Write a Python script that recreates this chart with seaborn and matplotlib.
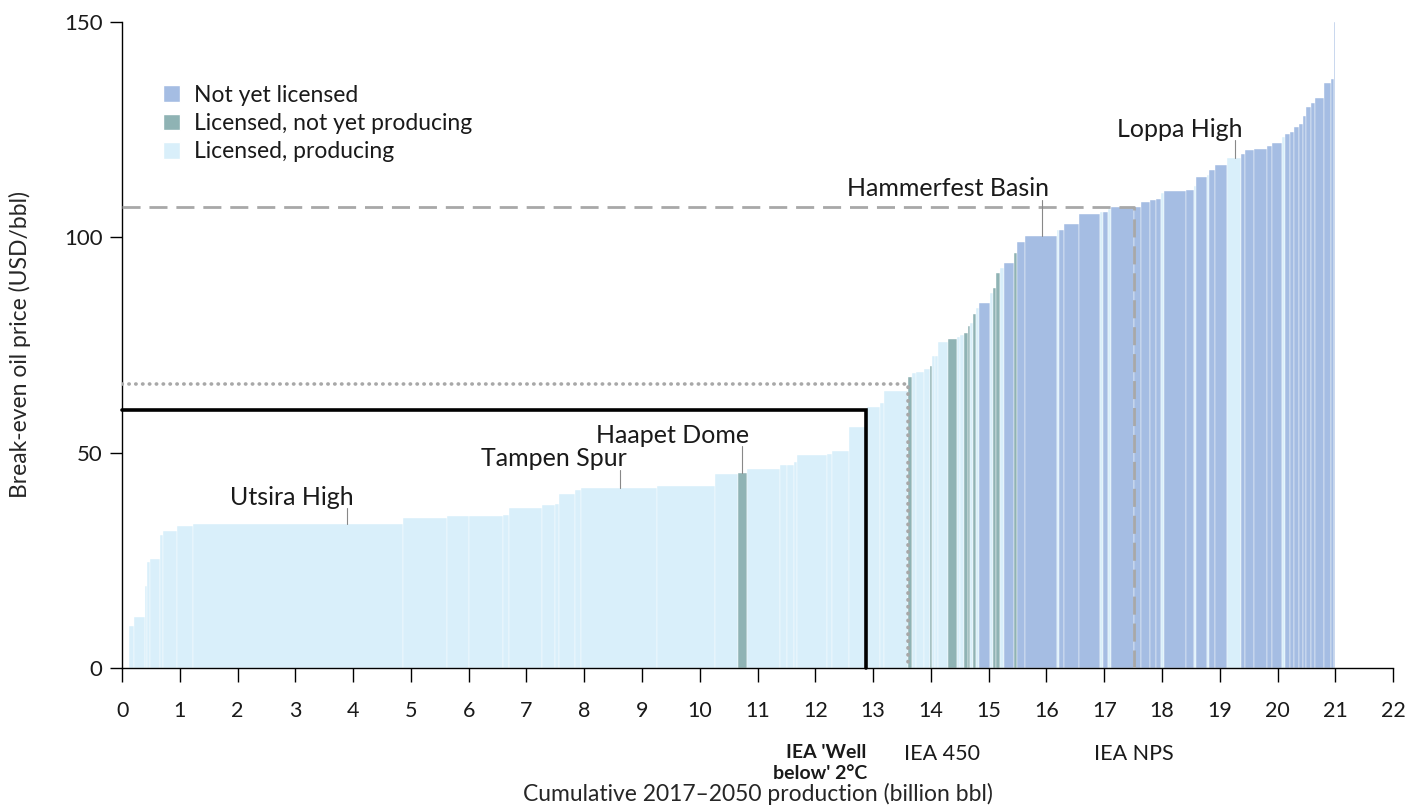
import numpy as np
import pandas as pd
import seaborn as sns
import matplotlib.pyplot as plt
from matplotlib.patches import Patch

# Field data, sorted by break-even price (volume in billion bbl, price in USD/bbl)
start_volume = 0.12
volumes = [0.08, 0.20, 0.03, 0.05, 0.18, 0.04, 0.25, 0.28, 3.64, 0.75,
           0.38, 0.60, 0.10, 0.56, 0.23, 0.08, 0.27, 0.11, 1.31, 1.00,
           0.40, 0.15, 0.57, 0.13, 0.12, 0.06, 0.51, 0.08, 0.30, 0.32,
           0.21, 0.07, 0.42, 0.08, 0.07, 0.13, 0.10, 0.03, 0.06, 0.05,
           0.18, 0.15, 0.05, 0.07, 0.07, 0.04, 0.05, 0.05, 0.06, 0.19,
           0.04, 0.06, 0.06, 0.07, 0.17, 0.06, 0.13, 0.56, 0.04, 0.08,
           0.26, 0.36, 0.06, 0.08, 0.05, 0.40, 0.13, 0.15, 0.10, 0.10,
           0.05, 0.38, 0.14, 0.03, 0.19, 0.04, 0.09, 0.21, 0.25, 0.07,
           0.16, 0.22, 0.09, 0.17, 0.04, 0.09, 0.07, 0.09, 0.07, 0.06,
           0.07, 0.08, 0.15, 0.13, 0.04, 0.03]
prices = [9.8, 11.9, 19.0, 24.5, 25.3, 30.9, 31.8, 33.0, 33.4, 34.9,
          35.3, 35.4, 35.5, 37.2, 37.8, 38.1, 40.4, 41.3, 41.7, 42.3,
          45.0, 45.2, 46.1, 47.1, 47.1, 47.8, 49.5, 49.7, 50.4, 55.9,
          60.7, 61.6, 64.2, 67.6, 68.4, 68.7, 69.4, 70.2, 72.4, 72.4,
          75.8, 76.5, 76.8, 77.3, 77.7, 79.4, 80.0, 82.2, 83.5, 84.8,
          87.0, 88.2, 91.8, 92.8, 94.1, 96.3, 99.0, 100.4, 101.7, 101.7,
          103.2, 105.4, 105.8, 105.9, 106.5, 107.0, 107.1, 108.3, 108.6, 108.9,
          110.2, 110.8, 111.1, 112.0, 113.9, 114.5, 115.6, 116.8, 118.5, 119.3,
          120.3, 120.5, 121.3, 121.8, 123.2, 124.0, 124.5, 125.5, 126.3, 128.2,
          130.3, 131.1, 132.3, 135.8, 136.8, 150.0]
status = ['P'] * 21 + ['L'] + ['P'] * 11 + ['L', 'P', 'P', 'P', 'L', 'P', 'P',
          'P', 'L', 'P', 'P', 'L', 'L', 'P', 'L', 'P', 'N',
          'P', 'L', 'L', 'P', 'N', 'L', 'N', 'N', 'P', 'N',
          'N', 'N', 'P', 'N', 'P', 'N', 'N', 'N', 'N', 'N',
          'P', 'N', 'N', 'P', 'N', 'P', 'N', 'N', 'P', 'N',
          'N', 'N', 'N', 'N', 'P', 'N', 'N', 'N', 'N', 'N',
          'N', 'N', 'N', 'N', 'N', 'N']

status_labels = {'N': 'Not yet licensed', 'L': 'Licensed, not yet producing',
                 'P': 'Licensed, producing'}
status_colors = {'N': '#a5bde3', 'L': '#8fb3b4', 'P': '#d9effa'}

# IEA scenarios: cumulative volume and price
scenario_volume = [12.87, 13.6, 17.52]
scenario_price = [60, 66, 107]

basins = ['Utsira High', 'Tampen Spur', 'Haapet Dome', 'Hammerfest Basin', 'Loppa High']
basin_x = [3.89, 8.62, 10.73, 15.93, 19.27]
basin_line_top = [37.1, 46.0, 51.5, 108.7, 122.6]

df = pd.DataFrame({'volume': volumes, 'price': prices, 'status': status})
df['right'] = start_volume + df.volume.cumsum()
df['left'] = df.right - df.volume

sns.set_theme(style='ticks')
plt.rcParams['font.family'] = ['Lato', 'DejaVu Sans']
plt.rcParams['text.color'] = '#1a1a1a'

fig = plt.figure(figsize=(14.21, 8.08), dpi=100)
ax = fig.add_axes([0.0859, 0.1733, 0.8945, 0.7995])

ax.bar(df.left, df.price, width=df.volume, align='edge',
       color=[status_colors[s] for s in df.status], edgecolor='white', linewidth=0.3)

# scenario lines
ax.plot([0, scenario_volume[0], scenario_volume[0]], [scenario_price[0]] * 2 + [0],
        color='black', lw=2.6, solid_joinstyle='miter', zorder=4, clip_on=False)
ax.plot([0, scenario_volume[1], scenario_volume[1]], [scenario_price[1]] * 2 + [0],
        color='#a8a8a8', lw=2.6, ls=(0, (0.1, 1.8)), dash_capstyle='round', zorder=4)
ax.plot([0, scenario_volume[2], scenario_volume[2]], [scenario_price[2]] * 2 + [0],
        color='#a8a8a8', lw=2.0, ls=(0, (6.5, 3.2)), zorder=4)

# basin callouts
for name, x, ytop in zip(basins, basin_x, basin_line_top):
    i = np.searchsorted(df.right.values, x)
    ax.plot([x, x], [ytop, df.price.iloc[i]], color='#888888', lw=0.8, zorder=5)
    ax.text(x + 0.12, ytop + 0.8, name, ha='right', va='baseline', fontsize=18)

# scenario labels under axis
tr = ax.get_xaxis_transform()
ax.text(scenario_volume[0] + 0.02, -0.118, "IEA 'Well\nbelow' 2°C", transform=tr, ha='right',
        va='top', fontsize=14, fontweight='bold', multialignment='right', linespacing=1.25)
ax.text(scenario_volume[1] - 0.06, -0.118, 'IEA 450', transform=tr, ha='left', va='top', fontsize=15.5)
ax.text(scenario_volume[2], -0.118, 'IEA NPS', transform=tr, ha='center', va='top', fontsize=15.5)

ax.set_xlim(0, 22)
ax.set_ylim(0, 150)
ax.set_xticks(range(0, 23))
ax.set_yticks([0, 50, 100, 150])
ax.tick_params(axis='x', length=10, width=1, pad=14, labelsize=15.5, colors='black', labelcolor='#1a1a1a')
ax.tick_params(axis='y', length=9, width=1, pad=5, labelsize=16, colors='black', labelcolor='#1a1a1a')
for s in ['left', 'bottom']:
    ax.spines[s].set_color('black')
    ax.spines[s].set_linewidth(1)
sns.despine(ax=ax)

ax.set_xlabel('Cumulative 2017–2050 production (billion bbl)', fontsize=16.5, labelpad=44)
ax.set_ylabel('Break-even oil price (USD/bbl)', fontsize=16.5, labelpad=24)

handles = [Patch(facecolor=status_colors[k]) for k in ['N', 'L', 'P']]
ax.legend(handles, [status_labels[k] for k in ['N', 'L', 'P']], loc='upper left',
          bbox_to_anchor=(0.016, 0.935), frameon=False, fontsize=16.5, handlelength=0.75,
          handleheight=0.75, handletextpad=0.6, labelspacing=0.32)

fig.savefig('out.png', dpi=100)
